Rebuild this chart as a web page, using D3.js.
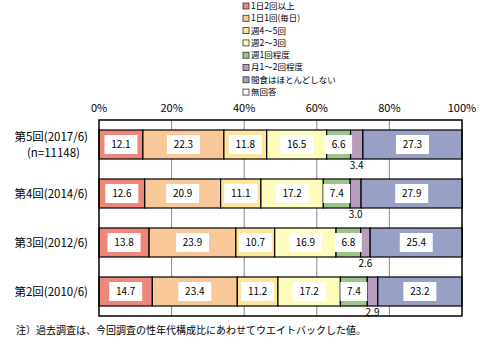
<!DOCTYPE html>
<html>
<head>
<meta charset="utf-8">
<script src="https://cdn.jsdelivr.net/npm/d3@7"></script>
<style>
  body { margin: 0; background: #fff; }
  text { font-family: "Noto Sans CJK JP", sans-serif; }
</style>
</head>
<body>
<div id="chart"></div>
<script>
// survey rounds, top to bottom
const rounds = ["第5回(2017/6)", "第4回(2014/6)", "第3回(2012/6)", "第2回(2010/6)"];
const subLabels = ["(n=11148)", "", "", ""];
const categories = ["1日2回以上", "1日1回(毎日)", "週4～5回", "週2～3回", "週1回程度", "月1～2回程度", "間食はほとんどしない", "無回答"];
const colors = ["#ec8779", "#f9c898", "#fee59a", "#fefcbc", "#9cc689", "#b99bbd", "#99a0c6", "#ffffff"];
// values per round, same order as categories
const values = [
  [12.1, 22.3, 11.8, 16.5, 6.6, 3.4, 27.3, 0],
  [12.6, 20.9, 11.1, 17.2, 7.4, 3.0, 27.9, 0],
  [13.8, 23.9, 10.7, 16.9, 6.8, 2.6, 25.4, 0],
  [14.7, 23.4, 11.2, 17.2, 7.4, 2.9, 23.2, 0]
];
const ticks = [0, 20, 40, 60, 80, 100];
const note = "注）過去調査は、今回調査の性年代構成比にあわせてウエイトバックした値。";

const width = 480, height = 352;
const margin = {top: 120, right: 18, bottom: 36, left: 99};

const svg = d3.select("#chart").append("svg")
  .attr("width", width)
  .attr("height", height);

const x = d3.scaleLinear().domain([0, 100]).range([margin.left, width - margin.right]);
const y = d3.scaleBand().domain(rounds)
  .range([margin.top, height - margin.bottom])
  .paddingInner(0.408).paddingOuter(0.204);

// gridlines
svg.append("g")
  .selectAll("line")
  .data(ticks.slice(1, -1))
  .join("line")
  .attr("x1", d => x(d)).attr("x2", d => x(d))
  .attr("y1", margin.top).attr("y2", height - margin.bottom)
  .attr("stroke", "#888").attr("stroke-width", 1);

// tick labels
svg.append("g")
  .attr("font-size", 11)
  .attr("text-anchor", "middle")
  .selectAll("text")
  .data(ticks)
  .join("text")
  .attr("x", d => x(d))
  .attr("y", 112)
  .text(d => d + "%");

// stacked segments
const rows = values.map((vals, i) => {
  let acc = 0;
  return vals.map((v, j) => {
    const seg = {round: rounds[i], cat: j, v, x0: acc, x1: acc + v};
    acc += v;
    return seg;
  }).filter(s => s.v > 0);
});
const segs = rows.flat();

svg.append("g")
  .selectAll("rect")
  .data(segs)
  .join("rect")
  .attr("x", d => x(d.x0))
  .attr("y", d => y(d.round))
  .attr("width", d => x(d.x1) - x(d.x0))
  .attr("height", y.bandwidth())
  .attr("fill", d => colors[d.cat])
  .attr("stroke", "#000")
  .attr("stroke-width", 1.2);

// value labels: white boxes inside, small ones go below
const inside = segs.filter(d => d.v >= 5);
const outside = segs.filter(d => d.v < 5);

const lab = svg.append("g").attr("font-size", 10).attr("text-anchor", "middle");
const lg = lab.selectAll("g").data(inside).join("g")
  .attr("transform", d => `translate(${x((d.x0 + d.x1) / 2)},${y(d.round) + y.bandwidth() / 2})`);
lg.append("rect")
  .attr("fill", "#fff")
  .attr("y", -9.5).attr("height", 19)
  .attr("x", d => -(d.v.toFixed(1).length * 3 + 4.5))
  .attr("width", d => d.v.toFixed(1).length * 6 + 9);
lg.append("text")
  .attr("dy", "0.35em")
  .text(d => d.v.toFixed(1));

lab.selectAll("text.out").data(outside).join("text")
  .attr("class", "out")
  .attr("x", d => x((d.x0 + d.x1) / 2))
  .attr("y", d => y(d.round) + y.bandwidth() + 6)
  .attr("dy", "0.35em")
  .text(d => d.v.toFixed(1));

// frame
svg.append("rect")
  .attr("x", margin.left).attr("y", margin.top)
  .attr("width", x(100) - x(0))
  .attr("height", height - margin.bottom - margin.top)
  .attr("fill", "none")
  .attr("stroke", "#000").attr("stroke-width", 1.5);

// category labels
const yl = svg.append("g").attr("font-size", 11.5).attr("text-anchor", "end");
rounds.forEach((r, i) => {
  const cy = y(r) + y.bandwidth() / 2;
  if (subLabels[i]) {
    yl.append("text").attr("x", 88).attr("y", cy - 8).attr("dy", "0.35em").text(r);
    yl.append("text").attr("x", 80).attr("y", cy + 8).attr("dy", "0.35em").text(subLabels[i]);
  } else {
    yl.append("text").attr("x", 88).attr("y", cy).attr("dy", "0.35em").text(r);
  }
});

// legend
const leg = svg.append("g").attr("font-size", 8.5)
  .selectAll("g").data(categories).join("g")
  .attr("transform", (d, i) => `translate(243,${6 + i * 12.3})`);
leg.append("rect")
  .attr("x", 0).attr("y", -3).attr("width", 6).attr("height", 6)
  .attr("fill", (d, i) => colors[i])
  .attr("stroke", "#333").attr("stroke-width", 0.8);
leg.append("text")
  .attr("x", 8).attr("dy", "0.35em")
  .text(d => d);

// footnote
svg.append("text")
  .attr("x", 16).attr("y", 330)
  .attr("dy", "0.35em")
  .attr("font-size", 10)
  .text(note);
</script>
</body>
</html>
